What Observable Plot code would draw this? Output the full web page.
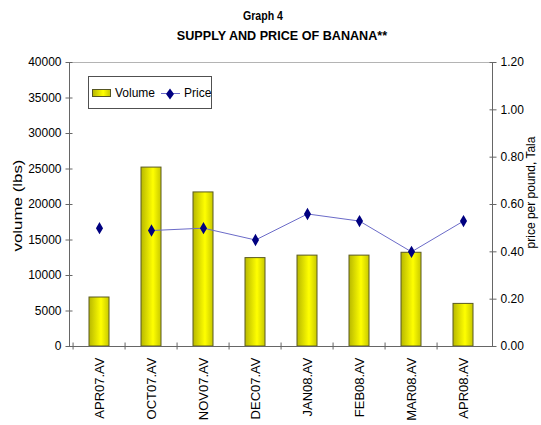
<!DOCTYPE html>
<html><head><meta charset="utf-8">
<script src="https://cdn.jsdelivr.net/npm/d3@7"></script>
<script src="https://cdn.jsdelivr.net/npm/@observablehq/plot@0.6"></script>
<style>
body{margin:0;background:#fff;font-family:"Liberation Sans",Arial,sans-serif;overflow:hidden}
#wrap{position:relative;width:541px;height:425px;overflow:hidden;background:#fff}
.t{position:absolute;white-space:nowrap;font-weight:bold;font-size:12px}
#chart{position:absolute;left:0;top:50px}
#legend{position:absolute;left:88px;top:76px;width:124px;height:33px;border:1px solid #505050;background:#fff;font-size:12px;box-sizing:border-box}
#legend .sw{position:absolute;left:3px;top:12px;width:19px;height:8px;border:1px solid #555522;box-sizing:border-box;background:linear-gradient(to right,#b8b800,#ffff00 60%,#c8c800)}
#legend .lbl{position:absolute;top:9px;line-height:14px}
#legend .ln{position:absolute;left:72px;top:16px;width:19px;height:1px;background:#6b6bc8}
#legend svg{position:absolute;left:76px;top:11px}
</style></head>
<body>
<div id="wrap">
  <div class="t" style="left:263px;top:9px;transform:translateX(-50%) scaleX(0.88)">Graph 4</div>
  <div class="t" style="left:281.5px;top:29px;transform:translateX(-50%) scaleX(1.05)">SUPPLY AND PRICE OF BANANA**</div>
  <div id="chart"></div>
  <div id="legend">
    <div class="sw"></div><div class="lbl" style="left:26px">Volume</div>
    <div class="ln"></div>
    <svg width="10" height="12"><path d="M5,0.5L9,6L5,11.5L1,6Z" fill="#000080"/></svg>
    <div class="lbl" style="left:95px">Price</div>
  </div>
</div>
<script>
const categories = ["APR07.AV","OCT07.AV","NOV07.AV","DEC07.AV","JAN08.AV","FEB08.AV","MAR08.AV","APR08.AV"];
const volume = [6900, 25200, 21700, 12450, 12800, 12800, 13200, 6000];
const price = [0.50, 0.49, 0.50, 0.45, 0.56, 0.53, 0.40, 0.53];
const volumeTicks = [0,5000,10000,15000,20000,25000,30000,35000,40000];
const priceTicks = [0,0.2,0.4,0.6,0.8,1.0,1.2];

const volMax = 40000, priceMax = 1.2;
const toVol = p => p * volMax / priceMax;
const data = categories.map((c,i) => ({cat:c, volume:volume[i], price:price[i]}));

const W = 541, H = 375, mL = 69, mR = 49, mT = 12, mB = 79;
const bw = (W - mL - mR) / categories.length;
const axisColor = "#666666";

const chart = Plot.plot({
  width: W, height: H,
  marginLeft: mL, marginRight: mR, marginTop: mT, marginBottom: mB,
  style: {fontFamily: "'Liberation Sans', Arial, sans-serif", fontSize: "12px", background: "#fff", color: "#000", overflow: "visible"},
  x: {type: "band", domain: categories, padding: 0},
  y: {domain: [0, volMax]},
  marks: [
    Plot.ruleY([volMax], {stroke: "#b4b4b4"}),
    Plot.barY(data, {x: "cat", y: "volume", fill: "url(#bargrad)", stroke: "#5a5a22", strokeWidth: 1, insetLeft: 16, insetRight: 16}),
    Plot.line(data.slice(1), {x: "cat", y: d => toVol(d.price), stroke: "#6b6bc8", strokeWidth: 1}),
    Plot.dot(data, {x: "cat", y: d => toVol(d.price), symbol: "diamond", r: 2.4, fill: "#000080", stroke: "#000080", strokeWidth: 2.2}),
    Plot.frame({anchor: "left", stroke: axisColor}),
    Plot.frame({anchor: "right", stroke: axisColor}),
    Plot.frame({anchor: "bottom", stroke: axisColor}),
    Plot.axisY({anchor: "left", ticks: volumeTicks, tickSize: 7, dx: 3.5, fill: "none", stroke: axisColor, label: null}),
    Plot.axisY({anchor: "left", ticks: volumeTicks, tickSize: 0, tickPadding: 8, tickFormat: d => String(d), label: null, fontSize: 12}),
    Plot.axisY({anchor: "right", ticks: priceTicks.map(toVol), tickSize: 7, dx: -3.5, fill: "none", stroke: axisColor, label: null}),
    Plot.axisY({anchor: "right", ticks: priceTicks.map(toVol), tickSize: 0, tickPadding: 8, tickFormat: d => (d * priceMax / volMax).toFixed(2), label: null, fontSize: 12}),
    Plot.axisX({anchor: "bottom", tickSize: 7, dx: -bw / 2, dy: -3.5, fill: "none", stroke: axisColor, label: null}),
    Plot.axisX({anchor: "bottom", tickSize: 0, tickPadding: 11, tickRotate: -90, label: null, fontSize: 13}),
    Plot.text(["volume (lbs)"], {text: d => d, frameAnchor: "left", textAnchor: "middle", lineAnchor: "middle", rotate: -90, dx: -51, dy: 1, fontSize: 12, className: "ylabel-left"}),
    Plot.text(["price per pound, Tala"], {text: d => d, frameAnchor: "right", textAnchor: "middle", lineAnchor: "middle", rotate: -90, dx: 39, dy: -12, fontSize: 12})
  ]
});

const defs = d3.select(chart).insert("defs", ":first-child");
const g = defs.append("linearGradient").attr("id", "bargrad").attr("x1", 0).attr("x2", 1).attr("y1", 0).attr("y2", 0);
g.append("stop").attr("offset", "0%").attr("stop-color", "#b8b800");
g.append("stop").attr("offset", "60%").attr("stop-color", "#ffff00");
g.append("stop").attr("offset", "100%").attr("stop-color", "#c8c800");

d3.select(chart).selectAll(".ylabel-left text").attr("textLength", 92).attr("lengthAdjust", "spacingAndGlyphs");

document.getElementById("chart").appendChild(chart);
</script>
</body></html>
